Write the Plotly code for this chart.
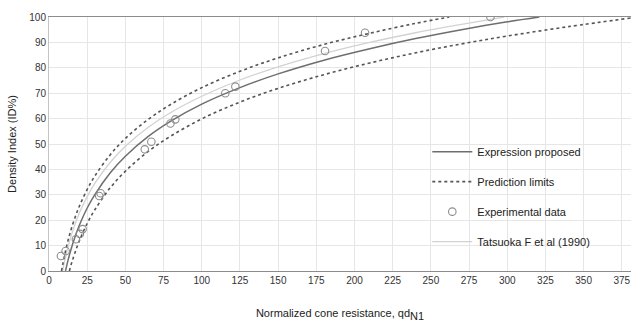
import plotly.graph_objects as go

# Experimental data
exp_x = [7.8, 10.9, 17.6, 20.2, 22.0, 32.9, 33.8, 62.7, 67.0, 79.5, 82.7, 115.4, 122.0, 180.7, 206.9, 289.0]
exp_y = [5.9, 7.9, 12.5, 14.6, 16.5, 29.5, 30.6, 47.9, 50.9, 58.1, 59.7, 70.0, 72.6, 86.6, 93.8, 100.0]

# Expression proposed
expr_x = [10.8, 12, 14, 17, 20, 25, 30, 40, 50, 65, 80, 100, 125, 150, 180, 210, 240, 270, 300, 321]
expr_y = [0.0, 3.1, 7.7, 13.4, 18.2, 24.8, 30.1, 38.6, 45.2, 53.0, 59.1, 65.7, 72.2, 77.6, 83.0, 87.5, 91.5, 95.0, 98.1, 100.0]

# Prediction limits (upper / lower)
up_x = [8.2, 9, 10, 12, 14, 17, 20, 25, 30, 40, 50, 65, 80, 100, 125, 150, 180, 210, 240, 262]
up_y = [0.0, 2.6, 5.6, 10.9, 15.4, 21.0, 25.7, 32.1, 37.4, 45.7, 52.2, 59.7, 65.7, 72.2, 78.6, 83.9, 89.2, 93.6, 97.5, 100.0]
lo_x = [13.3, 15, 17, 20, 25, 30, 40, 50, 65, 80, 100, 125, 150, 180, 210, 240, 270, 300, 340, 381]
lo_y = [0.0, 3.5, 7.2, 12.1, 18.7, 24.1, 32.7, 39.3, 47.1, 53.2, 59.9, 66.5, 71.9, 77.3, 81.9, 85.9, 89.4, 92.5, 96.2, 99.6]

# Tatsuoka F et al (1990)
tat_x = [8.9, 10, 12, 15, 20, 25, 30, 40, 50, 65, 80, 100, 125, 150, 180, 210, 240, 270, 298]
tat_y = [0.0, 3.2, 8.4, 14.8, 23.0, 29.3, 34.5, 42.7, 49.1, 56.6, 62.5, 68.8, 75.2, 80.4, 85.6, 90.0, 93.8, 97.1, 100.0]

x_ticks = list(range(0, 376, 25))
y_ticks = list(range(0, 101, 10))

fig = go.Figure()
fig.add_trace(go.Scatter(x=tat_x, y=tat_y, mode="lines", name="Tatsuoka F et al (1990)",
                         line=dict(color="#d2d2d2", width=1.3, shape="spline"),
                         legendgroup="d", legendrank=4))
fig.add_trace(go.Scatter(x=expr_x, y=expr_y, mode="lines", name="Expression proposed",
                         line=dict(color="#6e6e6e", width=1.5, shape="spline"),
                         legendgroup="a", legendrank=1))
fig.add_trace(go.Scatter(x=up_x, y=up_y, mode="lines", name="Prediction limits",
                         line=dict(color="#555555", width=1.6, dash="dot", shape="spline"),
                         legendgroup="b", legendrank=2))
fig.add_trace(go.Scatter(x=lo_x, y=lo_y, mode="lines", name="Prediction limits",
                         line=dict(color="#555555", width=1.6, dash="dot", shape="spline"),
                         legendgroup="b", showlegend=False))
fig.add_trace(go.Scatter(x=exp_x, y=exp_y, mode="markers", name="Experimental data",
                         marker=dict(symbol="circle-open", size=7.5, color="#8c8c8c",
                                     line=dict(width=1.1, color="#8c8c8c")),
                         legendgroup="c", legendrank=3))

font = "Liberation Sans, Arial, sans-serif"
fig.update_layout(
    width=631, height=325,
    margin=dict(l=49, r=0, t=17, b=54),
    paper_bgcolor="white", plot_bgcolor="white",
    font=dict(family=font, size=10, color="#333333"),
    showlegend=True,
    legend=dict(x=0.65, y=0.527, xanchor="left", yanchor="top",
                bgcolor="rgba(0,0,0,0)", font=dict(size=11, color="#222222"),
                tracegroupgap=11, itemwidth=40),
    xaxis=dict(range=[0, 381], tickvals=x_ticks, showgrid=True, gridcolor="#e6e6e6",
               showline=True, linecolor="#8c8c8c", linewidth=1.2, mirror=True,
               ticks="", zeroline=False, automargin=False, ticklabeloverflow="allow",
               tickfont=dict(size=10, color="#333333"),
               title=dict(text="Normalized cone resistance, qd<sub><span style='font-size:11px'>N1</span></sub>",
                          font=dict(size=11, color="#222222"), standoff=24)),
    yaxis=dict(range=[0, 100], tickvals=y_ticks, showgrid=True, gridcolor="#e6e6e6",
               showline=True, linecolor="#c4c4c4", linewidth=1,
               ticks="", zeroline=False, automargin=False,
               tickfont=dict(size=10, color="#333333"),
               title=dict(text="Density Index (ID%)", font=dict(size=11, color="#222222"),
                          standoff=10)),
)

fig.write_html("out.html",
               config={"displayModeBar": False},
               post_script="document.body.style.margin='0';document.body.style.overflow='hidden';")
